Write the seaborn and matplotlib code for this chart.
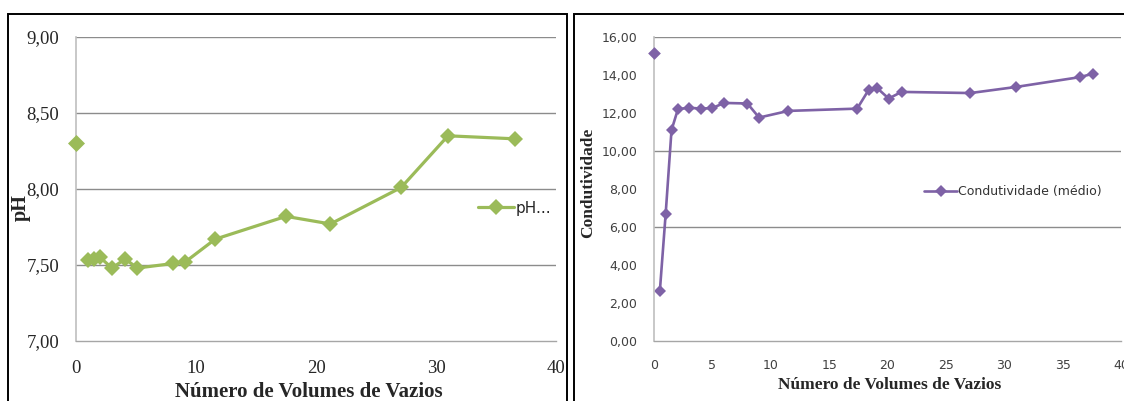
import numpy as np
import pandas as pd
import matplotlib
matplotlib.use('Agg')
import matplotlib.pyplot as plt
from matplotlib.patches import Rectangle
import seaborn as sns

# dados
vol_ph = [0.0, 1.0, 1.5, 2.0, 3.0, 4.1, 5.1, 8.1, 9.1, 11.6, 17.5, 21.2, 27.1, 31.0, 36.6]
ph = [8.30, 7.535, 7.54, 7.55, 7.48, 7.54, 7.48, 7.51, 7.52, 7.67, 7.82, 7.77, 8.01, 8.35, 8.33]

vol_cond = [0.0, 0.5, 1.0, 1.5, 2.05, 3.0, 4.0, 5.0, 6.0, 8.0, 9.0, 11.5, 17.4, 18.4,
            19.1, 20.1, 21.2, 27.1, 31.0, 36.5, 37.6]
cond = [15.16, 2.62, 6.70, 11.10, 12.20, 12.28, 12.23, 12.26, 12.53, 12.50, 11.76, 12.11,
        12.23, 13.23, 13.32, 12.76, 13.11, 13.05, 13.37, 13.89, 14.07]

ph_ticks = [7.0, 7.5, 8.0, 8.5, 9.0]
cond_ticks = [0, 2, 4, 6, 8, 10, 12, 14, 16]
cond_grid = [6, 10, 16]

GREEN = '#9BBB59'
PURPLE = '#7E62A6'
SERIF = 'Liberation Serif'

sns.set_style('white')
plt.rcParams['font.family'] = ['DejaVu Sans']

df_ph = pd.DataFrame({'vol': vol_ph, 'ph': ph})
df_cond = pd.DataFrame({'vol': vol_cond, 'cond': cond})

W, H = 1124, 401
fig = plt.figure(figsize=(W / 100, H / 100), dpi=100)
ax1 = fig.add_axes([76 / W, 1 - 341 / H, (556 - 76) / W, (341 - 37) / H])
ax2 = fig.add_axes([654 / W, 1 - 341 / H, (1121 - 654) / W, (341 - 37) / H])

# --- pH ---
sns.lineplot(data=df_ph.iloc[1:], x='vol', y='ph', ax=ax1, color=GREEN, lw=2.3,
             marker='D', markersize=8.5, markeredgewidth=0, label='pH...')
sns.scatterplot(data=df_ph.iloc[:1], x='vol', y='ph', ax=ax1, color=GREEN,
                marker='D', s=75, linewidth=0, legend=False, clip_on=False, zorder=5)
ax1.set_xlim(0, 40); ax1.set_ylim(7, 9)
ax1.set_xticks([0, 10, 20, 30, 40])
ax1.set_yticks(ph_ticks)
ax1.set_yticklabels([f'{v:.2f}'.replace('.', ',') for v in ph_ticks])
for v in ph_ticks[1:]:
    ax1.axhline(v, color='#8C8C8C', lw=1.0, zorder=0)
for lab in ax1.get_xticklabels() + ax1.get_yticklabels():
    lab.set_fontfamily(SERIF); lab.set_fontsize(13.5)
ax1.tick_params(axis='x', length=5, width=1, color='#A6A6A6', pad=9)
ax1.tick_params(axis='y', length=5, width=1, color='#A6A6A6', pad=7)
ax1.set_xlabel('Número de Volumes de Vazios', fontfamily=SERIF, fontsize=15, fontweight='bold')
ax1.set_ylabel('pH', fontfamily=SERIF, fontsize=14.5, fontweight='bold')
ax1.xaxis.set_label_coords(0.485, -0.135)
ax1.yaxis.set_label_coords(-0.095, 0.44)
ax1.legend(loc='center left', bbox_to_anchor=(470 / W, 1 - 208 / H),
           bbox_transform=fig.transFigure, frameon=False, fontsize=11,
           handlelength=2.4, handletextpad=0.1, borderpad=0)

# --- Condutividade ---
sns.lineplot(data=df_cond.iloc[1:], x='vol', y='cond', ax=ax2, color=PURPLE, lw=1.9,
             marker='D', markersize=6.5, markeredgewidth=0, label='Condutividade (médio)')
sns.scatterplot(data=df_cond.iloc[:1], x='vol', y='cond', ax=ax2, color=PURPLE,
                marker='D', s=42, linewidth=0, legend=False, clip_on=False, zorder=5)
ax2.set_xlim(0, 40); ax2.set_ylim(0, 16)
ax2.set_xticks(range(0, 41, 5))
ax2.set_yticks(cond_ticks)
ax2.set_yticklabels([f'{v:.2f}'.replace('.', ',') for v in cond_ticks])
for v in cond_grid:
    ax2.axhline(v, color='#8C8C8C', lw=1.0, zorder=0)
ax2.tick_params(axis='both', length=4, width=1, color='#A6A6A6', labelsize=9,
                labelcolor='#404040')
ax2.tick_params(axis='x', pad=9)
ax2.tick_params(axis='y', pad=8)
ax2.set_xlabel('Número de Volumes de Vazios', fontfamily=SERIF, fontsize=12.5, fontweight='bold')
ax2.set_ylabel('Condutividade', fontfamily=SERIF, fontsize=12.5, fontweight='bold')
ax2.xaxis.set_label_coords(0.505, -0.118)
ax2.yaxis.set_label_coords(-0.123, 0.52)
leg2 = ax2.legend(loc='center left', bbox_to_anchor=(918 / W, 1 - 192 / H),
                  bbox_transform=fig.transFigure, frameon=False, fontsize=9,
                  handlelength=2.6, handletextpad=0.1, borderpad=0)
for t in leg2.get_texts():
    t.set_color('#333333')

for ax in (ax1, ax2):
    sns.despine(ax=ax)
    ax.spines['left'].set_color('#BFBFBF')
    ax.spines['bottom'].set_color('#A6A6A6')
    ax.spines['left'].set_linewidth(1.2)
    ax.spines['bottom'].set_linewidth(1.0)

# molduras dos dois quadros
fig.add_artist(Rectangle((8 / W, -0.05), (567 - 8) / W, 1 - 14 / H + 0.05,
                         transform=fig.transFigure, fill=False, lw=1.4, ec='black'))
fig.add_artist(Rectangle((574 / W, -0.05), 0.6, 1 - 14 / H + 0.05,
                         transform=fig.transFigure, fill=False, lw=1.4, ec='black'))

plt.savefig('out.png', dpi=100)
plt.close()
